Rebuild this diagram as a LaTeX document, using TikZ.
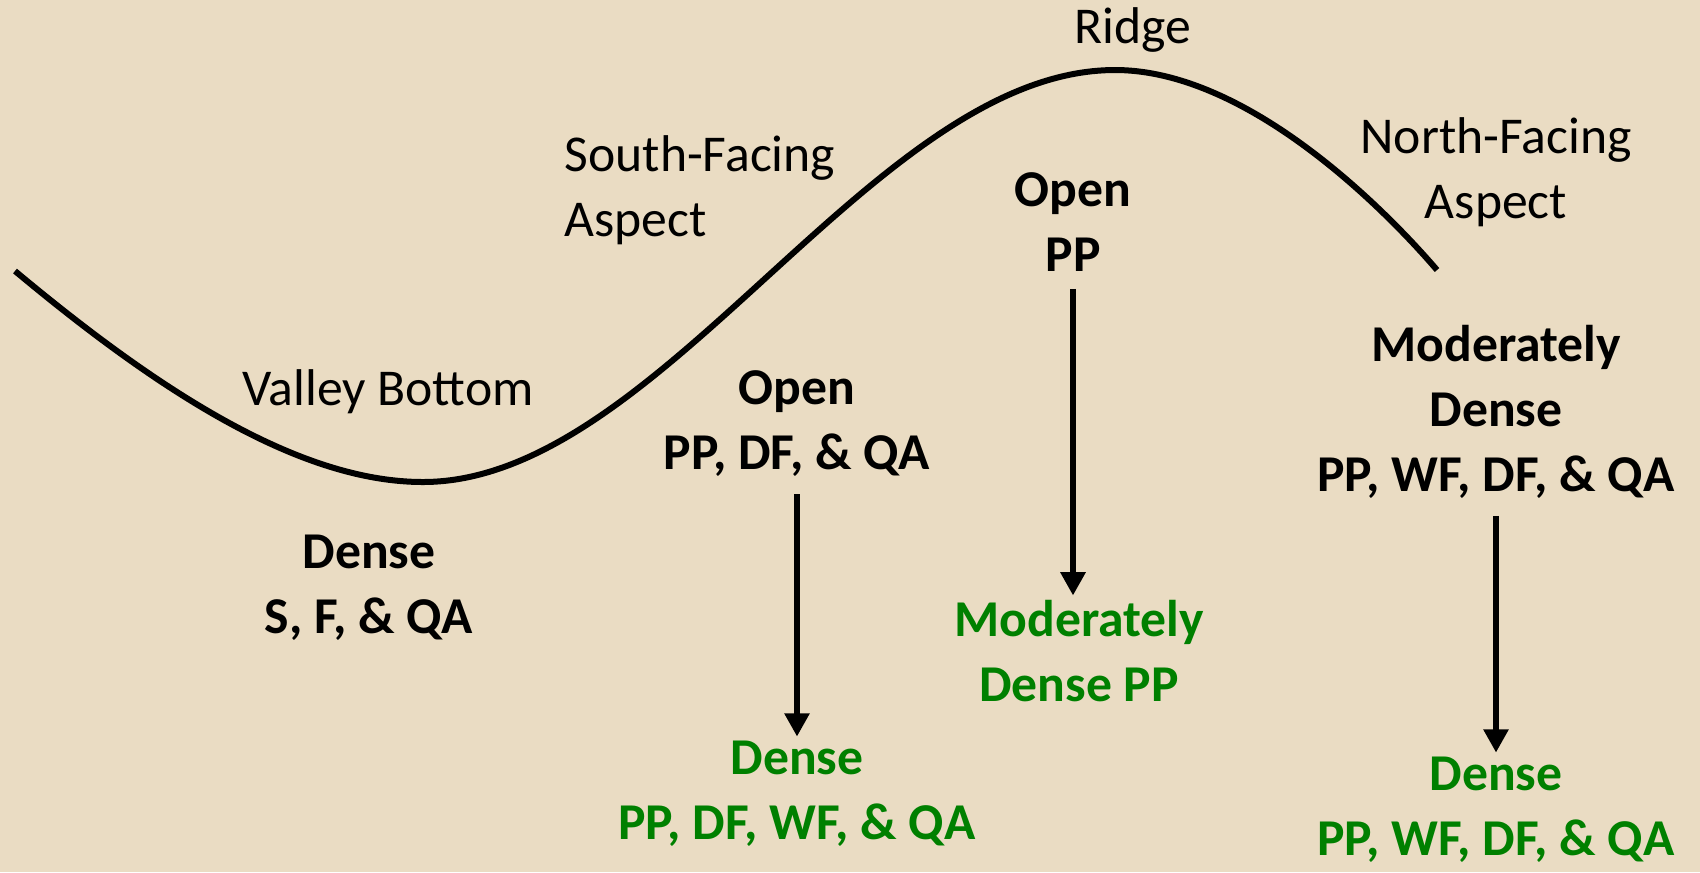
\documentclass[tikz,border=0pt]{standalone}
\usepackage{fontspec}
\setmainfont{Carlito}
\usetikzlibrary{arrows.meta, positioning}
\definecolor{sand}{RGB}{234,220,195}
\definecolor{leaf}{RGB}{0,128,0}

\begin{document}
\begin{tikzpicture}[
    x=0.3pt, y=-0.3pt,
    every node/.style={font=\fontsize{15.5}{19.5}\selectfont, align=center, inner sep=3pt},
    now/.style={font=\fontsize{15.5}{19.5}\selectfont\bfseries},
    later/.style={now, text=leaf},
    trend/.style={-{Triangle[length=7pt, width=7.2pt]}, line width=2pt,
        shorten <=2pt, shorten >=-1.8pt},
    slope/.style={line width=1.8pt}
]
    \fill[sand] (0,0) rectangle (1700,872);
    \useasboundingbox (0,0) rectangle (1700,872);

    % the hillside
    \draw[slope] (15,271) .. controls (160,392) and (300,482) .. (423,482)
        .. controls (661,482) and (874,70) .. (1115,70)
        .. controls (1250,70) and (1390,215) .. (1437,270);

    % positions on the slope
    \node (ridge) at (1133,30) {Ridge};
    \node[align=left] (south) at (700,190) {South-Facing\\Aspect};
    \node (north) at (1496,172) {North-Facing\\Aspect};
    \node (valley) at (388,392) {Valley Bottom};

    % stands now
    \node[now] (valleynow) at (369,588) {Dense\\S, F, \& QA};
    \node[now] (southnow) at (797,424) {Open\\PP, DF, \& QA};
    \node[now] (ridgenow) at (1073,222) {Open\\PP};
    \node[now] (northnow) at (1496,412) {Moderately\\Dense\\PP, WF, DF, \& QA};

    % stands later
    \node[later] (southlater) at (797,794) {Dense\\PP, DF, WF, \& QA};
    \node[later] (ridgelater) at (1079,651) {Moderately\\Dense PP};
    \node[later] (northlater) at (1496,810) {Dense\\PP, WF, DF, \& QA};

    \draw[trend] (southnow) -- (southnow |- southlater.north);
    \draw[trend] (ridgenow) -- (ridgenow |- ridgelater.north);
    \draw[trend] (northnow) -- (northnow |- northlater.north);
\end{tikzpicture}
\end{document}
